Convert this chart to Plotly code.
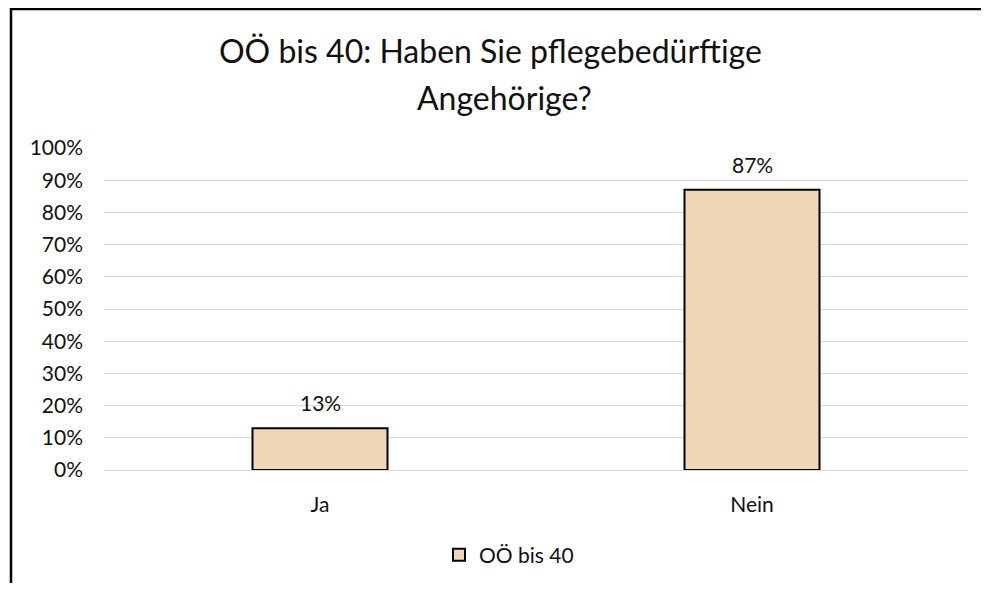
import plotly.graph_objects as go

categories = ["Ja", "Nein"]
values = [0.13, 0.87]
series_name = "OÖ bis 40"
title_lines = ["OÖ bis 40: Haben Sie pflegebedürftige", "Angehörige?"]
y_ticks = [i / 10 for i in range(11)]
y_tick_labels = [f"{i*10}%" for i in range(11)]

# page has an 8px body margin on every side; work in page pixels and convert
OFF = 8
W, H = 989 - 2 * OFF, 591 - 2 * OFF
PL, PR, PT, PB = 104, 968, 148, 470          # plot area in page pixels
L = PL - OFF
T = PT - OFF
R = W - (PR - OFF)
B = H - (PB - OFF)
PW = PR - PL
PH = PB - PT

def px(x):
    return (x - PL) / PW

def py(y):
    return (PB - y) / PH

def cy(y):
    return 1 - (y - OFF) / H

FONT = "Lato"
TXT = "#111111"
FS = 21

fig = go.Figure()
fig.add_trace(go.Bar(
    x=categories, y=values, name=series_name,
    marker=dict(color="#F1D7B7", line=dict(color="#000000", width=2)),
    width=0.3125, showlegend=True,
))

for c, v in zip(categories, values):
    fig.add_annotation(x=c, y=v, text=f"{round(v*100)}%", showarrow=False,
                       yanchor="bottom", yshift=11,
                       font=dict(family=FONT, size=FS, color=TXT))

fig.add_annotation(xref="paper", yref="paper", x=px(490), y=py(50),
                   text=title_lines[0], showarrow=False, xanchor="center", yanchor="middle",
                   font=dict(family=FONT, size=32, color=TXT))
fig.add_annotation(xref="paper", yref="paper", x=px(504), y=py(97),
                   text=title_lines[1], showarrow=False, xanchor="center", yanchor="middle",
                   font=dict(family=FONT, size=32, color=TXT))

# chart border (top and left visible)
fig.add_shape(type="line", xref="paper", yref="paper", x0=px(11), x1=px(W + OFF), y0=py(9), y1=py(9),
              line=dict(color="#000000", width=2.5))
fig.add_shape(type="line", xref="paper", yref="paper", x0=px(11), x1=px(11), y0=py(8), y1=py(H + OFF),
              line=dict(color="#000000", width=2.5))

fig.update_layout(
    width=W, height=H,
    margin=dict(l=L, r=R, t=T, b=B, autoexpand=False),
    paper_bgcolor="white", plot_bgcolor="white",
    font=dict(family=FONT, size=FS, color=TXT),
    bargap=0.6875,
    showlegend=True,
    legend=dict(orientation="h", xref="paper", x=px(509), xanchor="center",
                yref="container", y=cy(555), yanchor="middle",
                font=dict(family=FONT, size=FS, color=TXT), itemwidth=30),
    xaxis=dict(showgrid=False, showline=False, zeroline=False, ticks="", automargin=False,
               ticklabelstandoff=20, tickfont=dict(family=FONT, size=FS, color=TXT)),
    yaxis=dict(range=[0, 1], tickvals=y_ticks, ticktext=y_tick_labels, automargin=False,
               showgrid=True, gridcolor="#D9D9D9", gridwidth=1,
               zeroline=True, zerolinecolor="#D9D9D9", zerolinewidth=1,
               showline=False, ticks="", ticklabelstandoff=20,
               tickfont=dict(family=FONT, size=FS, color=TXT)),
)

fig.write_html("out.html", config={"displayModeBar": False})
